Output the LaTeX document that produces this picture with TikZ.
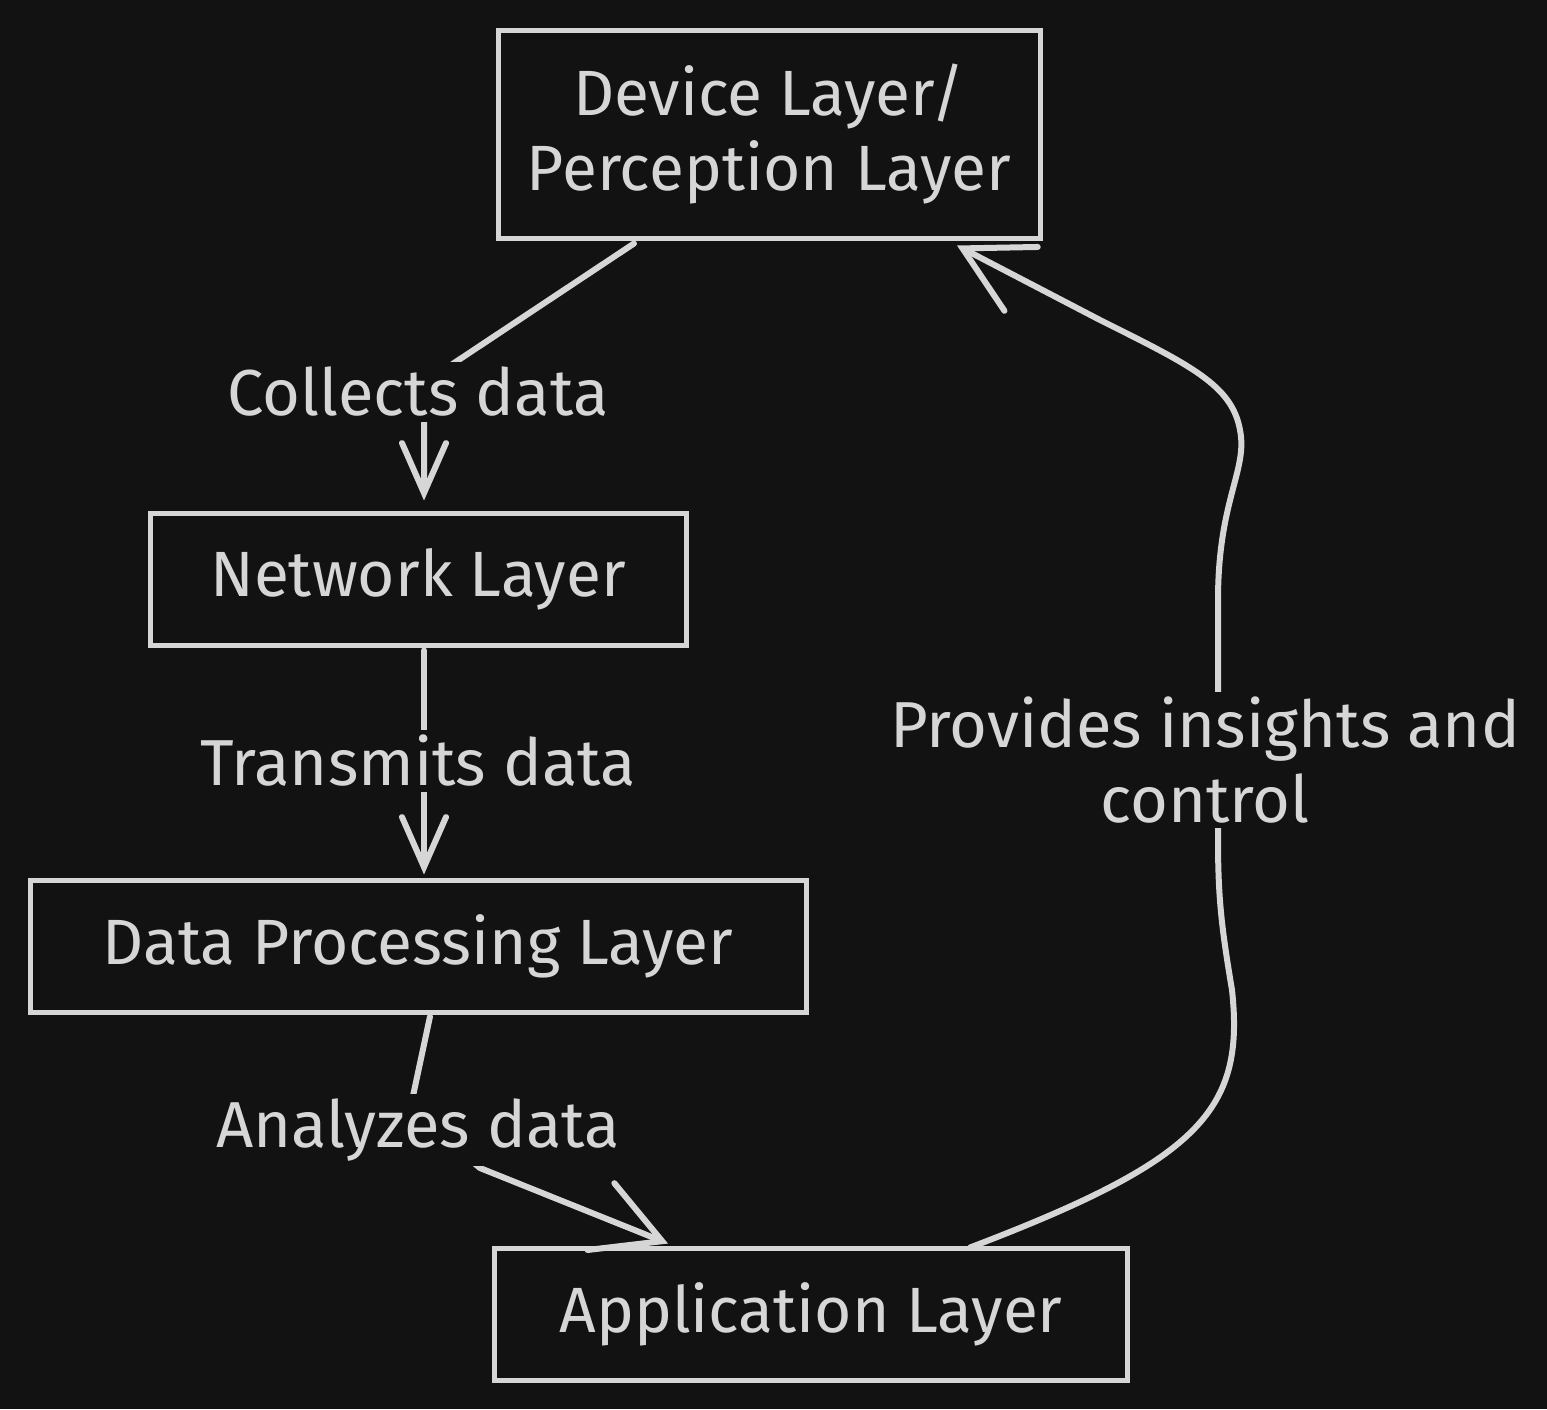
\documentclass[tikz,border=0pt]{standalone}
\usepackage{fontspec}
\setmainfont{Fira Sans}
\usetikzlibrary{arrows.meta}
\definecolor{bg}{HTML}{121212}
\definecolor{ink}{HTML}{D6D6D6}
\begin{document}
\begin{tikzpicture}[x=1pt,y=-1pt,
  layer/.style={draw=ink,line width=5pt,text=ink,align=center,font=\fontsize{64}{75}\selectfont,inner sep=0pt},
  lbl/.style={fill=bg,text=ink,align=center,font=\fontsize{65}{75}\selectfont,inner sep=5pt},
  conn/.style={draw=ink,line width=6pt,line cap=round,line join=round,-{Straight Barb[length=50pt,width=44pt,line cap=round]}},
  bigconn/.style={conn,-{Straight Barb[length=66pt,width=72pt,line cap=round]}}]
\fill[bg] (0,0) rectangle (1547,1409);
\useasboundingbox (0,0) rectangle (1547,1409);
\node[layer,minimum width=542pt,minimum height=208pt] (dev) at (769,134) {Device Layer/\\Perception Layer};
\node[layer,minimum width=536pt,minimum height=132pt] (net) at (418,579) {Network Layer};
\node[layer,minimum width=776pt,minimum height=132pt] (dp) at (418,946) {Data Processing Layer};
\node[layer,minimum width=633pt,minimum height=132pt] (app) at (811,1314) {Application Layer};
% connectors
\draw[conn] ([xshift=-135pt,yshift=-3pt]dev.south) -- (424,383) -- ([xshift=6pt,yshift=10pt]net.north);
\draw[conn] ([xshift=6pt,yshift=-3pt]net.south) -- ([xshift=6pt,yshift=3pt]dp.north);
\draw[bigconn] ([xshift=12pt,yshift=-2pt]dp.south) -- (410,1110) -- (480,1168) -- ([xshift=-143pt,yshift=2pt]app.north);
\draw[bigconn] ([xshift=159pt,yshift=-2pt]app.north) .. controls (1200,1160) and (1245,1110) .. (1232,990)
  .. controls (1222,930) and (1218,900) .. (1218,840) -- (1218,600)
  .. controls (1218,500) and (1248,470) .. (1240,430)
  .. controls (1232,385) and (1190,365) .. (1100,320) -- ([xshift=188pt,yshift=-5pt]dev.south);
% labels
\node[lbl] (l1) at (418,392) {Collects data};
\node[lbl] (l2) at (418,761) {Transmits data};
\node[lbl] (l3) at (418,1130) {Analyzes data};
\node[lbl] (l4) at (1205,760) {Provides insights and\\control};
\end{tikzpicture}
\end{document}
